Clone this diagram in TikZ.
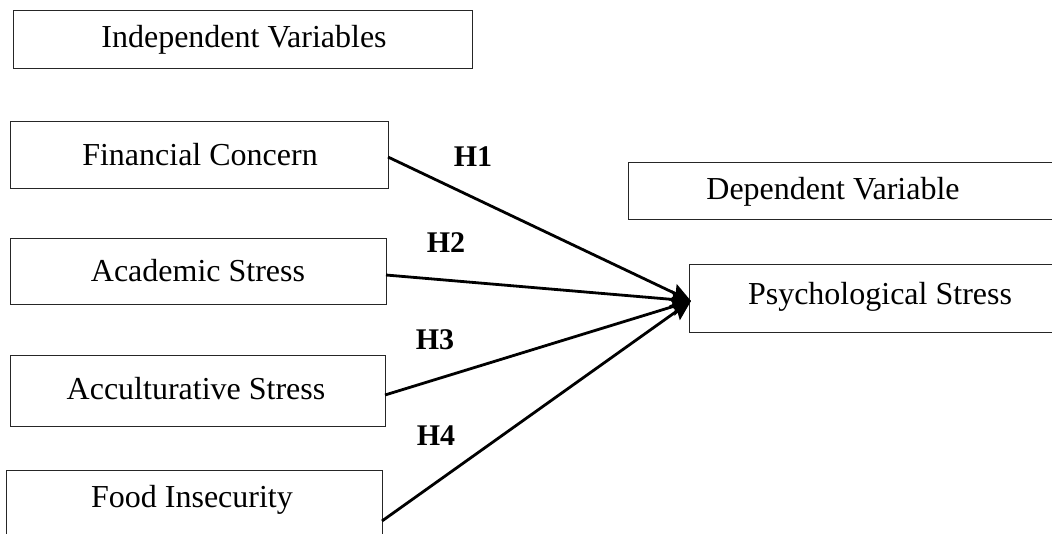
\documentclass[tikz,border=0pt]{standalone}
\usepackage{fontspec}
\setmainfont{Liberation Serif}
\usetikzlibrary{arrows.meta}
\begin{document}
\begin{tikzpicture}[x=1pt,y=-1pt,
  box/.style={draw=black!85, line width=1.3pt, rectangle, inner sep=0pt, anchor=north west},
  lbl/.style={font=\fontsize{32}{37}\selectfont, inner sep=0pt},
  hyp/.style={font=\fontsize{30}{35}\selectfont\bfseries, inner sep=0pt},
  arr/.style={line width=2.8pt, -{Stealth[length=20pt,width=18pt,inset=3pt]}}]
\useasboundingbox (0,0) rectangle (1052,533);
\clip (0,0) rectangle (1052,533);
% boxes
\node[box, minimum width=459pt, minimum height=58pt] (iv) at (13,10) {};
\node[lbl] (ivt) at (244,40) {Independent Variables};
\node[box, minimum width=378pt, minimum height=67pt] (fc) at (10,121) {};
\node[lbl] (fct) at (200,155) {Financial Concern};
\node[box, minimum width=376pt, minimum height=66pt] (as) at (10,238) {};
\node[lbl] (ast) at (198,271) {Academic Stress};
\node[box, minimum width=375pt, minimum height=71pt] (acs) at (10,355) {};
\node[lbl] (acst) at (196,389) {Acculturative Stress};
\node[box, minimum width=376pt, minimum height=90pt] (fi) at (6,470) {};
\node[lbl] (fit) at (192,500) {Food Insecurity};
\node[box, minimum width=440pt, minimum height=57pt] (dv) at (628,162) {};
\node[lbl] (dvt) at (833,192) {Dependent Variable};
\node[box, minimum width=400pt, minimum height=68pt] (ps) at (689,264) {};
\node[lbl] (pst) at (880,297) {Psychological Stress};
% connector ends
\coordinate (s1) at (388,157);
\coordinate (s2) at (386,275);
\coordinate (s3) at (385,395);
\coordinate (s4) at (382,521);
\coordinate (t) at (691,301);
\draw[arr] (s1) -- (t);
\draw[arr] (s2) -- (t);
\draw[arr] (s3) -- (t);
\draw[arr] (s4) -- (t);
% labels
\node[hyp] (h1) at (473,157) {H1};
\node[hyp] (h2) at (446,243) {H2};
\node[hyp] (h3) at (435,340) {H3};
\node[hyp] (h4) at (436,436) {H4};
\end{tikzpicture}
\end{document}
